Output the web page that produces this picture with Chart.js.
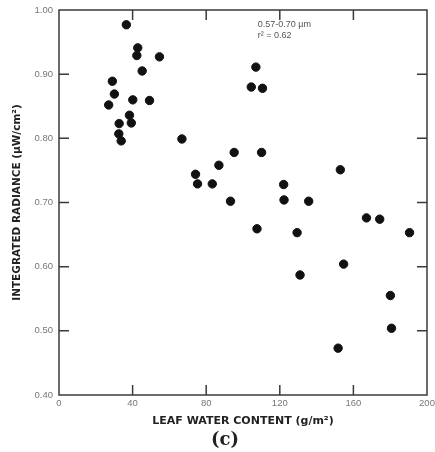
<!DOCTYPE html>
<html>
<head>
<meta charset="utf-8">
<script src="https://cdn.jsdelivr.net/npm/chart.js@4/dist/chart.umd.min.js"></script>
<style>
    body { margin: 0; background: #fff; }
    #box { width: 435px; height: 452px; }
</style>
</head>
<body>
<div id="box"><canvas id="ourChart"></canvas></div>
<script>
// leaf water content (g/m2) and integrated radiance (uW/cm2)
const waterContent = [
    36.6, 42.8, 42.3, 45.2, 54.6, 29.0, 30.1, 27.0, 40.1, 49.2,
    38.3, 39.3, 32.7, 32.5, 33.8, 66.8, 74.2, 75.3, 83.3, 86.9,
    95.2, 107.0, 104.5, 110.6, 110.1, 152.9, 122.1, 93.2, 122.3, 135.7,
    167.1, 174.3, 107.6, 129.4, 190.5, 154.7, 131.0, 180.1, 180.7, 151.7
];
const radiance = [
    0.977, 0.941, 0.929, 0.905, 0.927, 0.889, 0.869, 0.852, 0.860, 0.859,
    0.836, 0.824, 0.823, 0.807, 0.796, 0.799, 0.744, 0.729, 0.729, 0.758,
    0.778, 0.911, 0.880, 0.878, 0.778, 0.751, 0.728, 0.702, 0.704, 0.702,
    0.676, 0.674, 0.659, 0.653, 0.653, 0.604, 0.587, 0.555, 0.504, 0.473
];
const xTicks = [0, 40, 80, 120, 160, 200];
const yTicks = [0.40, 0.50, 0.60, 0.70, 0.80, 0.90, 1.00];
const noteLines = ['0.57-0.70 \u00b5m', 'r\u00b2 = 0.62'];
const panelLabel = '(c)';

let points = waterContent.map((x, i) => ({ x: x, y: radiance[i] }));

// frame, inward ticks on all four sides, note and panel label
const framePlugin = {
    id: 'frame',
    afterDraw(chart) {
        const ctx = chart.ctx;
        const a = chart.chartArea;
        const xs = chart.scales.x;
        const ys = chart.scales.y;
        ctx.save();
        ctx.strokeStyle = '#3a3a3a';
        ctx.lineWidth = 1.5;
        ctx.strokeRect(a.left, a.top, a.right - a.left, a.bottom - a.top);
        ctx.beginPath();
        for (let v of xTicks.slice(1, -1)) {
            let px = xs.getPixelForValue(v);
            ctx.moveTo(px, a.bottom); ctx.lineTo(px, a.bottom - 10);
            ctx.moveTo(px, a.top); ctx.lineTo(px, a.top + 10);
        }
        for (let v of yTicks.slice(1, -1)) {
            let py = ys.getPixelForValue(v);
            ctx.moveTo(a.left, py); ctx.lineTo(a.left + 10, py);
            ctx.moveTo(a.right, py); ctx.lineTo(a.right - 10, py);
        }
        ctx.stroke();

        ctx.fillStyle = '#555';
        ctx.font = '9px "Liberation Sans", Arial, sans-serif';
        ctx.textAlign = 'left';
        ctx.textBaseline = 'middle';
        ctx.fillText(noteLines[0], xs.getPixelForValue(108), ys.getPixelForValue(0.977));
        ctx.fillText(noteLines[1], xs.getPixelForValue(108), ys.getPixelForValue(0.961));

        ctx.fillStyle = '#222';
        ctx.font = 'bold 18px "DejaVu Serif", "Liberation Serif", serif';
        ctx.textAlign = 'center';
        ctx.fillText(panelLabel, 225, 440);
        ctx.restore();
    }
};

const chartElement = new Chart($('ourChart'), {
    type: 'scatter',
    data: {
        datasets: [
            {
                data: points,
                backgroundColor: '#111',
                borderColor: '#111',
                pointRadius: 4.2,
                pointHoverRadius: 4.2
            }
        ]
    },
    options: {
        responsive: true,
        maintainAspectRatio: false,
        animation: false,
        layout: { padding: { left: 0, top: 10, right: 8, bottom: 0 } },
        plugins: {
            legend: { display: false },
            tooltip: { enabled: false }
        },
        scales: {
            x: {
                type: 'linear',
                min: 0,
                max: 200,
                afterBuildTicks: (s) => { s.ticks = xTicks.map(v => ({ value: v })); },
                afterFit: (s) => { s.height = 57; s.paddingLeft = 0; s.paddingRight = 0; },
                grid: { display: false, drawTicks: false },
                border: { display: false },
                ticks: {
                    color: '#777',
                    padding: 3,
                    maxRotation: 0,
                    font: { size: 9.5, family: '"Liberation Sans", Arial, sans-serif' }
                },
                title: {
                    display: true,
                    text: 'LEAF WATER CONTENT (g/m\u00b2)',
                    color: '#222',
                    padding: { top: 0, bottom: 24 },
                    font: { size: 11, weight: 'bold', family: '"DejaVu Sans", Verdana, sans-serif' }
                }
            },
            y: {
                type: 'linear',
                min: 0.40,
                max: 1.00,
                afterBuildTicks: (s) => { s.ticks = yTicks.map(v => ({ value: v })); },
                afterFit: (s) => { s.width = 59; s.paddingTop = 0; s.paddingBottom = 0; },
                grid: { display: false, drawTicks: false },
                border: { display: false },
                ticks: {
                    color: '#777',
                    padding: 6,
                    callback: (v) => v.toFixed(2),
                    font: { size: 9.5, family: '"Liberation Sans", Arial, sans-serif' }
                },
                title: {
                    display: true,
                    text: 'INTEGRATED RADIANCE (\u00b5W/cm\u00b2)',
                    color: '#222',
                    padding: { top: 11, bottom: 0 },
                    font: { size: 10.5, weight: 'bold', family: '"DejaVu Sans", Verdana, sans-serif' }
                }
            }
        }
    },
    plugins: [framePlugin]
});

function $(id) { return document.getElementById(id); }
</script>
</body>
</html>
